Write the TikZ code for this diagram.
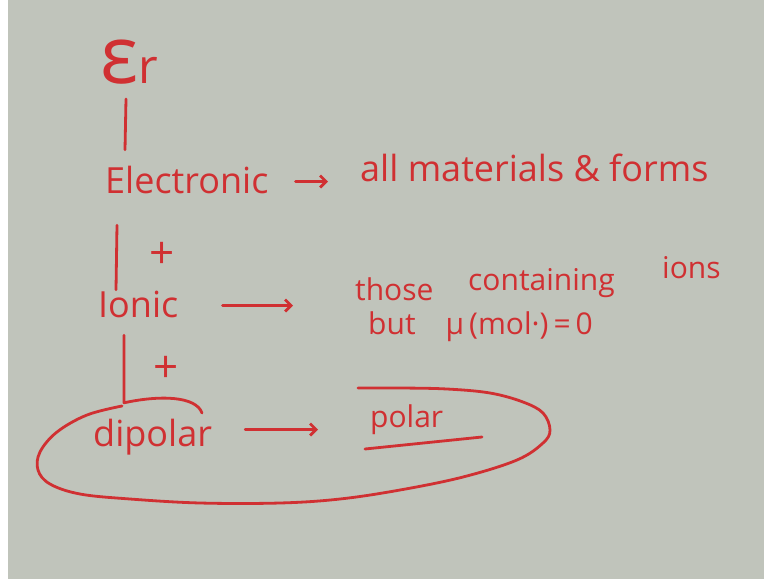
\documentclass[tikz,border=0pt]{standalone}
\usepackage{fontspec}
\setmainfont{Open Sans}
\usetikzlibrary{arrows.meta,calc}
\definecolor{slateboard}{RGB}{192,196,187}
\definecolor{markerred}{RGB}{208,48,50}

\begin{document}
\begin{tikzpicture}[x=1pt, y=-1pt,
    ink/.style={text=markerred, inner sep=0pt},
    bigink/.style={ink, font=\fontsize{36}{40}\selectfont, text height=32pt, text depth=9pt},
    smallink/.style={ink, font=\fontsize{30}{34}\selectfont, text height=27pt, text depth=7.5pt},
    plusink/.style={ink, font=\fontsize{44}{48}\selectfont},
    stroke/.style={draw=markerred, line width=2.8pt, line cap=round, line join=round},
    pointer/.style={stroke, -{Straight Barb[length=6pt,width=12pt]}}
  ]
  \useasboundingbox (0,0) rectangle (764,579);
  % board
  \fill[white] (0,0) rectangle (764,579);
  \fill[slateboard] (8,0) rectangle (764,579);

  % permittivity and its contributions
  \node[ink, anchor=base west] (er) at (100,83) {{\fontsize{80}{80}\selectfont ε}{\fontsize{48}{48}\selectfont r}};
  \node[bigink, anchor=base west] (elec) at (105,193) {Electronic};
  \node[bigink, anchor=base west] (ionic) at (98,317) {Ionic};
  \node[bigink, anchor=base west] (dip) at (93,446) {dipolar};
  \node[plusink] (plusA) at (162,255) {+};
  \node[plusink] (plusB) at (166,369) {+};

  % which materials show it
  \node[bigink, anchor=base west] (allmat) at (360,181) {all materials \& forms};
  \node[smallink, anchor=base west] (those) at (355,300) {those};
  \node[smallink, anchor=base west] (containing) at (468,290) {containing};
  \node[smallink, anchor=base west] (ions) at (662,278) {ions};
  \node[smallink, anchor=base west] (but) at (368,334) {but\quad μ\,(mol·)\,=\,0};
  \node[smallink, anchor=base west] (polar) at (370,427) {polar};

  % the chain
  \draw[stroke] ([shift={(26,15)}]er.south west) -- ([shift={(25,-11)}]er.south west |- elec.north);
  \draw[stroke] ([shift={(12,23)}]elec.south west) -- ([shift={(18,5)}]ionic.north west);
  \draw[stroke] ([shift={(26,9)}]ionic.south west) -- ([shift={(31,-11)}]dip.north west)
    .. controls (160,395) and (196,396) .. (202,413);

  % arrows
  \draw[pointer, shorten <=27pt, shorten >=32pt] (elec.east) -- (elec.east -| allmat.west);
  \draw[pointer, shorten <=44pt, shorten >=62pt] (ionic.east) -- (ionic.east -| those.west);
  \draw[pointer, shorten <=33pt, shorten >=52pt] ([yshift=5pt]dip.east) -- ([yshift=5pt]dip.east -| polar.west);

  % ring round the last row
  \draw[stroke] plot[smooth, tension=0.6] coordinates {(122,406) (87,415) (57,432) (40,452) (38,470)
    (50,484) (80,494) (130,499) (200,503) (280,503) (340,499) (400,490) (463,477) (517,460)
    (543,443) (550,430) (543,413) (523,402) (490,393) (447,389) (400,388) (358,388)};
  \draw[stroke] (365,449) -- (482,437);
\end{tikzpicture}
\end{document}
